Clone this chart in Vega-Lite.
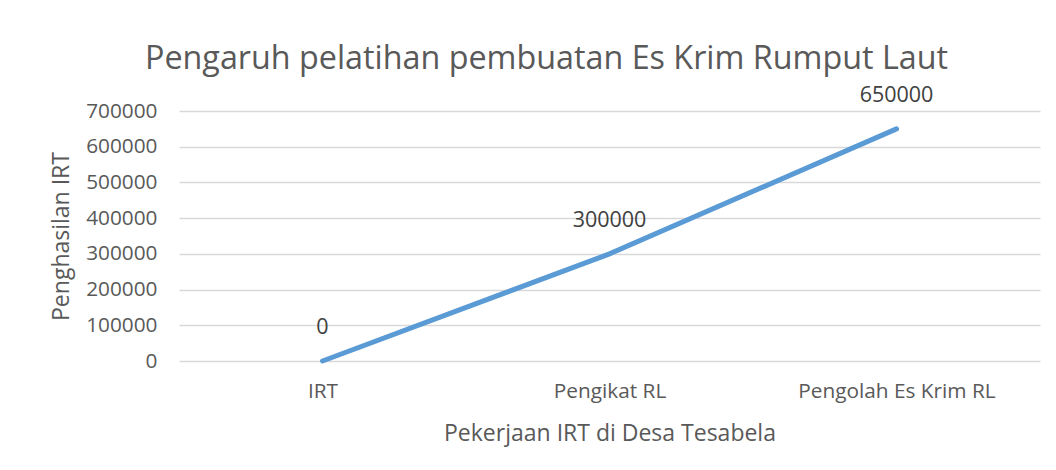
{
  "$schema": "https://vega.github.io/schema/vega-lite/v6.json",
  "width": 861,
  "height": 250,
  "autosize": {"type": "none"},
  "padding": {"left": 179, "top": 111, "right": 16, "bottom": 109},
  "background": "white",
  "title": {
    "text": "Pengaruh pelatihan pembuatan Es Krim Rumput Laut",
    "font": "Open Sans",
    "fontSize": 32.3,
    "fontWeight": "normal",
    "color": "#595959",
    "anchor": "middle",
    "dx": -63,
    "offset": 10
  },
  "config": {
    "view": {"stroke": null},
    "font": "Open Sans"
  },
  "data": {
    "values": [
      {"pekerjaan": "IRT", "penghasilan": 0},
      {"pekerjaan": "Pengikat RL", "penghasilan": 300000},
      {"pekerjaan": "Pengolah Es Krim RL", "penghasilan": 650000}
    ]
  },
  "encoding": {
    "x": {
      "field": "pekerjaan",
      "type": "nominal",
      "sort": null,
      "scale": {"type": "point", "padding": 0.5},
      "axis": {
        "title": "Pekerjaan IRT di Desa Tesabela",
        "titleFont": "Open Sans",
        "titleFontSize": 23,
        "titleFontWeight": "normal",
        "titleColor": "#595959",
        "titlePadding": 22,
        "labelFont": "Open Sans",
        "labelFontSize": 20.8,
        "labelColor": "#595959",
        "labelAngle": 0,
        "labelPadding": 20,
        "labelLimit": 400,
        "domain": false,
        "ticks": false,
        "grid": false
      }
    },
    "y": {
      "field": "penghasilan",
      "type": "quantitative",
      "scale": {"domain": [0, 700000]},
      "axis": {
        "title": "Penghasilan IRT",
        "titleFont": "Open Sans",
        "titleFontSize": 23,
        "titleFontWeight": "normal",
        "titleColor": "#595959",
        "titlePadding": 12,
        "labelFont": "Open Sans",
        "labelFontSize": 20.8,
        "labelColor": "#595959",
        "labelPadding": 22,
        "format": "d",
        "values": [0, 100000, 200000, 300000, 400000, 500000, 600000, 700000],
        "domain": false,
        "ticks": false,
        "grid": true,
        "gridColor": "#d9d9d9",
        "gridWidth": 1.5
      }
    }
  },
  "layer": [
    {
      "mark": {"type": "line", "color": "#5B9BD5", "strokeWidth": 5, "strokeCap": "round"}
    },
    {
      "mark": {"type": "text", "dy": -33, "baseline": "middle", "font": "Open Sans", "fontSize": 21.5, "color": "#404040"},
      "encoding": {
        "text": {"field": "penghasilan", "type": "quantitative", "format": "d"}
      }
    }
  ]
}
